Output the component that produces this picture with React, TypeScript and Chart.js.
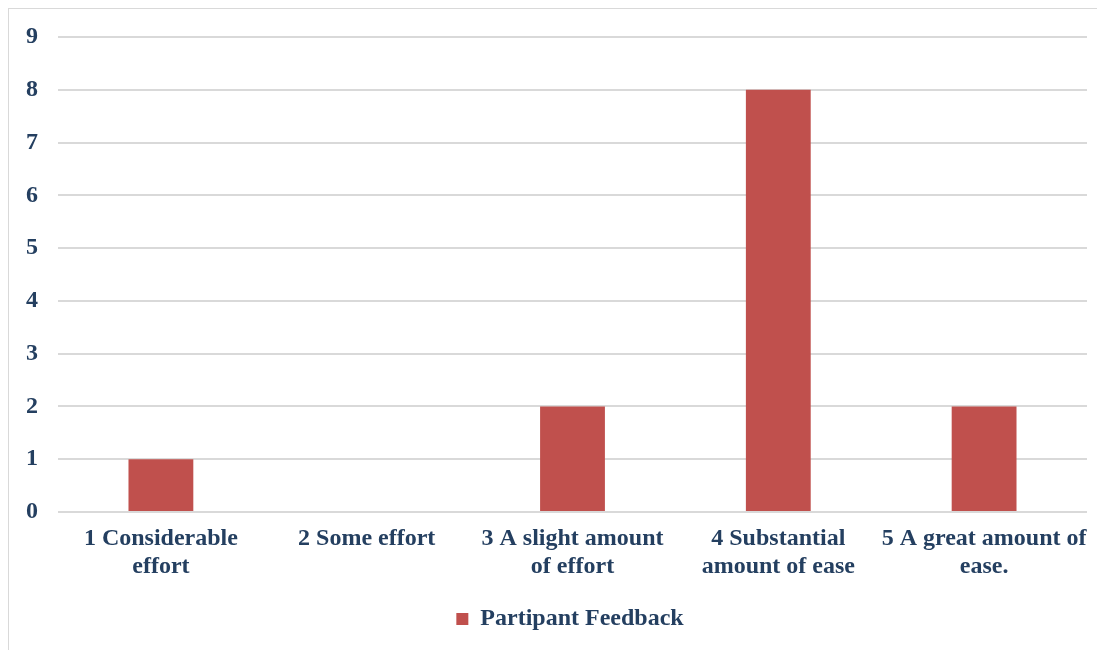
import React, { useEffect, useRef } from "react";
import { Chart, registerables } from "chart.js";

Chart.register(...registerables);

const categories: string[][] = [
  ["1 Considerable", "effort"],
  ["2 Some effort"],
  ["3 A slight amount", "of effort"],
  ["4 Substantial", "amount of ease"],
  ["5 A great amount of", "ease."],
];
const seriesName = "Partipant Feedback";
const values: number[] = [1, 0, 2, 8, 2];
const yTicks: number[] = [0, 1, 2, 3, 4, 5, 6, 7, 8, 9];

const FONT = '"Liberation Serif", "Times New Roman", serif';
const TEXT = "#243F60";

const legendShift = {
  id: "legendShift",
  afterLayout(chart: any) {
    if (chart.legend) {
      chart.legend.left += 22;
      chart.legend.right += 22;
    }
  },
};

export default function App() {
  const ref = useRef<HTMLCanvasElement | null>(null);
  useEffect(() => {
    if (!ref.current) return;
    const chart = new Chart(ref.current, {
      type: "bar",
      data: {
        labels: categories,
        datasets: [
          {
            label: seriesName,
            data: values,
            backgroundColor: "#C0504D",
            borderWidth: 0,
            categoryPercentage: 1,
            barPercentage: 0.315,
          },
        ],
      },
      plugins: [legendShift],
      options: {
        animation: false,
        responsive: false,
        maintainAspectRatio: false,
        layout: { padding: { top: 28, right: 18, left: 0, bottom: 9 } },
        plugins: {
          tooltip: { enabled: false },
          legend: {
            position: "bottom",
            labels: {
              boxWidth: 12,
              boxHeight: 12,
              padding: 10,
              color: TEXT,
              font: { family: FONT, size: 24, weight: "bold" },
            },
          },
        },
        scales: {
          x: {
            grid: { display: false, drawTicks: false },
            border: { display: false },
            ticks: {
              color: TEXT,
              padding: 13,
              maxRotation: 0,
              autoSkip: false,
              font: { family: FONT, size: 24, weight: "bold", lineHeight: 1.17 },
            },
            afterFit: (s: any) => {
              s.height = 85;
            },
          },
          y: {
            min: 0,
            max: 9,
            afterBuildTicks: (s: any) => {
              s.ticks = yTicks.map((v) => ({ value: v }));
            },
            grid: { color: "#d9d9d9", lineWidth: 2, drawTicks: false },
            border: { display: false },
            ticks: {
              color: TEXT,
              padding: 20,
              font: { family: FONT, size: 24, weight: "bold" },
            },
            afterFit: (s: any) => {
              s.width = 49;
              s.paddingTop = 0;
              s.paddingBottom = 0;
            },
          },
        },
      },
    });
    return () => chart.destroy();
  }, []);
  return (
    <div
      style={{
        width: 1097,
        height: 642,
        borderTop: "1px solid #d9d9d9",
        borderLeft: "1px solid #d9d9d9",
        boxSizing: "border-box",
        overflow: "hidden",
      }}
    >
      <canvas ref={ref} width={1096} height={641} style={{ display: "block" }} />
    </div>
  );
}
